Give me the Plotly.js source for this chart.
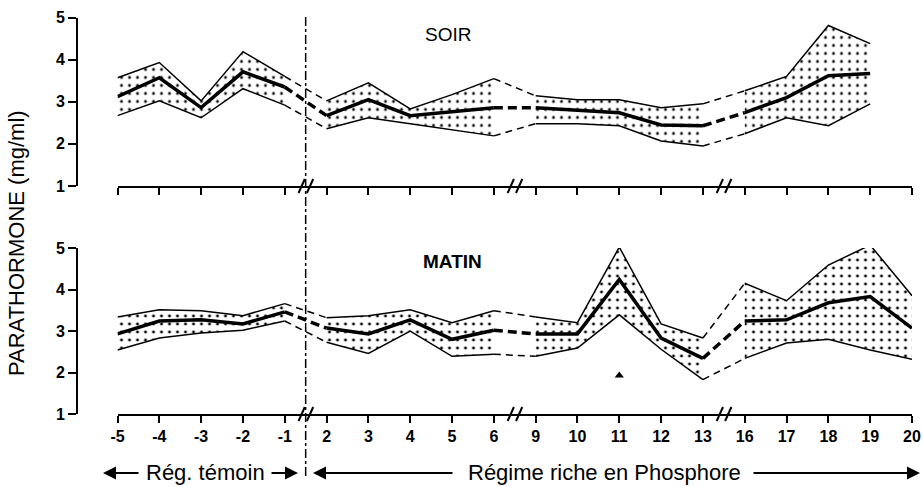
<!DOCTYPE html>
<html><head><meta charset="utf-8">
<script src="https://cdn.plot.ly/plotly-3.0.1.min.js"></script>
<style>html,body{margin:0;padding:0;background:#fff}</style>
</head><body>
<div id="chart" style="width:923px;height:487px"></div>
<script>
// ---- data ----
const categories = ['-5','-4','-3','-2','-1','2','3','4','5','6','9','10','11','12','13','16','17','18','19','20'];

const soirMean = [3.12, 3.57, 2.86, 3.71, 3.35, 2.67, 3.05, 2.67, 2.76, 2.86, 2.86, 2.79, 2.74, 2.45, 2.43, 2.74, 3.10, 3.62, 3.67, null];
const soirHigh = [3.57, 3.93, 3.02, 4.19, 3.60, 3.02, 3.45, 2.83, 3.17, 3.55, 3.14, 3.05, 3.05, 2.86, 2.95, 3.26, 3.60, 4.81, 4.38, null];
const soirLow  = [2.67, 3.02, 2.62, 3.31, 2.92, 2.36, 2.62, 2.48, 2.33, 2.19, 2.48, 2.48, 2.43, 2.07, 1.95, 2.24, 2.62, 2.43, 2.95, null];

const matinMean = [2.93, 3.24, 3.27, 3.17, 3.46, 3.07, 2.93, 3.27, 2.80, 3.02, 2.93, 2.93, 4.24, 2.83, 2.34, 3.24, 3.27, 3.68, 3.83, 3.07];
const matinHigh = [3.34, 3.51, 3.49, 3.37, 3.66, 3.32, 3.37, 3.51, 3.20, 3.49, 3.34, 3.20, 5.02, 3.17, 2.83, 4.15, 3.73, 4.59, 5.07, 3.85];
const matinLow  = [2.54, 2.83, 2.95, 3.02, 3.24, 2.73, 2.46, 3.00, 2.39, 2.44, 2.39, 2.59, 3.39, 2.56, 1.83, 2.34, 2.71, 2.80, 2.54, 2.32];

const signifCategory = ['11'];
const signifValue = [1.93];

const yTicks = [1, 2, 3, 4, 5];
const groups = [[0, 4], [5, 9], [10, 14], [15, 19]];
const breakPositions = [4.5, 9.5, 14.5];

// ---- helpers ----
const W = 923, H = 487;
const px = v => v / W;
const py = v => 1 - v / H;

function slice(arr, a, b) {
  const xs = [], ys = [];
  for (let i = a; i <= b; i++) {
    if (arr[i] !== null && arr[i] !== undefined) { xs.push(categories[i]); ys.push(arr[i]); }
  }
  return {x: xs, y: ys};
}

const traces = [];
function panel(mean, high, low, xa, ya) {
  groups.forEach(([a, b]) => {
    const lo = slice(low, a, b), hi = slice(high, a, b), me = slice(mean, a, b);
    traces.push({x: lo.x, y: lo.y, xaxis: xa, yaxis: ya, mode: 'lines',
      line: {color: '#000', width: 1.5}, hoverinfo: 'skip'});
    traces.push({x: hi.x, y: hi.y, xaxis: xa, yaxis: ya, mode: 'lines', fill: 'tonexty',
      fillcolor: 'rgba(255,255,255,0)',
      fillpattern: {shape: '.', fgcolor: '#000', bgcolor: 'rgba(255,255,255,0)', size: 8, solidity: 0.1},
      line: {color: '#000', width: 1.5}, hoverinfo: 'skip'});
    traces.push({x: me.x, y: me.y, xaxis: xa, yaxis: ya, mode: 'lines',
      line: {color: '#000', width: 3.5}, hoverinfo: 'skip'});
  });
  // dashed connectors across breaks
  for (let g = 0; g < groups.length - 1; g++) {
    const a = groups[g][1], b = groups[g + 1][0];
    [[low, 1.5, '7px,5px'], [high, 1.5, '7px,5px'], [mean, 3.5, '9px,5px']].forEach(([arr, w, d]) => {
      const s = slice(arr, a, b);
      if (s.x.length === 2) {
        traces.push({x: s.x, y: s.y, xaxis: xa, yaxis: ya, mode: 'lines',
          line: {color: '#000', width: w, dash: d}, hoverinfo: 'skip'});
      }
    });
  }
}
panel(soirMean, soirHigh, soirLow, 'x', 'y');
panel(matinMean, matinHigh, matinLow, 'x2', 'y2');
traces.push({x: signifCategory, y: signifValue, xaxis: 'x2', yaxis: 'y2', mode: 'markers',
  marker: {symbol: 'triangle-up', size: 8, color: '#000'}, hoverinfo: 'skip'});

const tickFont = {family: 'Liberation Sans, Arial, sans-serif', size: 16, color: '#000', weight: 'bold'};
const xBase = {
  type: 'category', categoryarray: categories, categoryorder: 'array', range: [0, 19],
  domain: [px(117.5), px(912)], showline: true, linewidth: 2, linecolor: '#000',
  ticks: 'outside', ticklen: 7, tickwidth: 2, tickcolor: '#000', showgrid: false, zeroline: false,
  tickfont: tickFont
};
const yBase = {
  range: [1, 5], tickvals: yTicks, anchor: 'free', position: px(77),
  showline: true, linewidth: 2, linecolor: '#000', ticks: 'outside', ticklen: 8, tickwidth: 2,
  tickcolor: '#000', showgrid: false, zeroline: false, tickfont: {...tickFont, size: 16}
};

const shapes = [];
// vertical dash-dot separator
shapes.push({type: 'line', xref: 'x', yref: 'paper', x0: 4.5, x1: 4.5, y0: py(17), y1: py(477),
  line: {color: '#000', width: 1.5, dash: 'dashdot'}});
// axis break marks
[['x', 186], ['x2', 414]].forEach(([xr, yy]) => {
  breakPositions.forEach(k => {
    [-0.17, 0.03].forEach(o => {
      shapes.push({type: 'line', xref: xr, yref: 'paper', x0: k + o, x1: k + o + 0.15,
        y0: py(yy + 7), y1: py(yy - 7), line: {color: '#000', width: 2}});
    });
  });
});

const txt = {family: 'Liberation Sans, Arial, sans-serif', color: '#000'};
const c = {xref: 'paper', yref: 'paper', xanchor: 'center', yanchor: 'middle', showarrow: false};
const annotations = [
  {...c, text: 'PARATHORMONE (mg/ml)', x: px(16), y: py(243), textangle: -90, font: {...txt, size: 22}},
  {...c, text: 'SOIR', x: px(448), y: py(34), font: {...txt, size: 19}},
  {...c, text: 'MATIN', x: px(452), y: py(261), font: {...txt, size: 19, weight: 'bold'}},
  {...c, text: 'Rég. témoin', x: px(205), y: py(472), font: {...txt, size: 22}},
  {...c, text: 'Régime riche en Phosphore', x: px(604), y: py(472), font: {...txt, size: 22}},
];
// arrows
[[103, 140], [298, 270], [313, 454], [920, 752]].forEach(([head, tail]) => {
  annotations.push({text: '', xref: 'paper', yref: 'paper', x: px(head), y: py(473),
    ax: tail - head, ay: 0, axref: 'pixel', ayref: 'pixel', showarrow: true,
    arrowhead: 2, arrowsize: 1.3, arrowwidth: 2, arrowcolor: '#000'});
});

const layout = {
  width: W, height: H, margin: {l: 0, r: 0, t: 0, b: 0}, showlegend: false,
  paper_bgcolor: '#fff', plot_bgcolor: 'rgba(0,0,0,0)',
  xaxis: {...xBase, anchor: 'y', showticklabels: false},
  yaxis: {...yBase, domain: [py(186), py(17.5)]},
  xaxis2: {...xBase, anchor: 'y2', showticklabels: true},
  yaxis2: {...yBase, domain: [py(414), py(248)]},
  shapes: shapes, annotations: annotations
};

Plotly.newPlot('chart', traces, layout, {staticPlot: true});
</script>
</body></html>
